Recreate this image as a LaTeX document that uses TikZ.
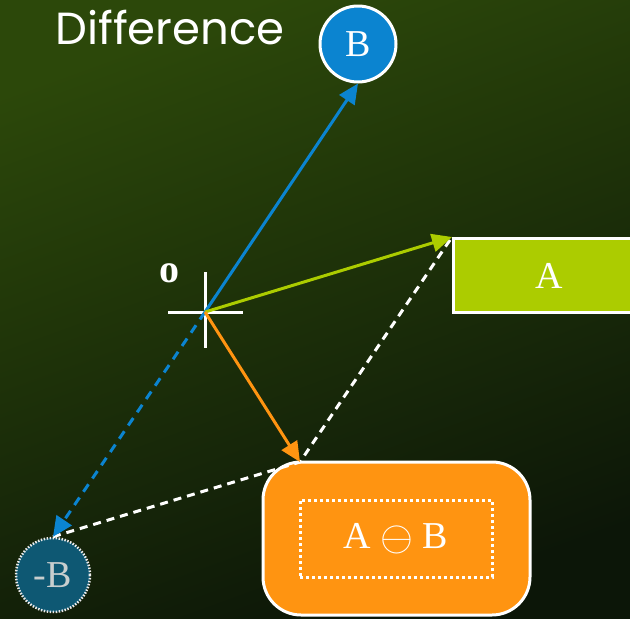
\documentclass[tikz,border=0pt]{standalone}
\usepackage{fontspec}
\setmainfont{Liberation Serif}
\newfontfamily\titlefont{Poppins}
\usetikzlibrary{arrows.meta,positioning}
\definecolor{cB}{RGB}{11,132,208}
\definecolor{cA}{RGB}{172,204,0}
\definecolor{cDiff}{RGB}{255,148,17}
\definecolor{cNegB}{RGB}{14,88,115}
\definecolor{bgTop}{RGB}{44,72,10}
\definecolor{bgBot}{RGB}{12,22,8}
\definecolor{softgray}{RGB}{200,206,206}

\begin{document}
\begin{tikzpicture}[x=1pt, y=-1pt, font=\fontsize{38}{42}\selectfont,
    vec/.style={line width=3pt, -{Triangle[length=20pt,width=18pt]}},
    guide/.style={white, line width=3pt, dash pattern=on 8pt off 6pt},
    vecnode/.style={draw=white, line width=3pt, text=white, inner sep=0pt}]
  \useasboundingbox (0,0) rectangle (630,619);
  \clip (0,0) rectangle (630,619);
  \shade[top color=bgTop, bottom color=bgBot, shading angle=20] (0,0) rectangle (630,619);

  \node[font=\titlefont\fontsize{45}{50}\selectfont, white] (title) at (170,28) {Difference};

  % vectors
  \node[vecnode, circle, fill=cB, minimum size=76pt] (B) at (358,44) {B};
  \node[vecnode, rectangle, fill=cA, minimum width=192pt, minimum height=74pt,
        anchor=north west] (A) at (452,237) {A};
  \node[vecnode, rectangle, rounded corners=38pt, fill=cDiff, minimum width=267pt,
        minimum height=153pt] (diff) at (396.5,538.5) {};
  \node[draw=white, line width=3pt, dash pattern=on 3pt off 3pt, text=white,
        minimum width=192pt, minimum height=77pt] (res) at (396,538.5)
        {A \raisebox{-2pt}{\scalebox{1.7}{$\ominus$}} B};
  \node[circle, fill=cNegB, draw=white!85!gray, line width=2.5pt, dash pattern=on 1.5pt off 1.5pt,
        text=softgray, minimum size=74pt, inner sep=0pt] (negB) at (53,575) {-B};

  % origin
  \coordinate (o) at (205,312);
  \coordinate (d) at (300,462);
  \draw[white, line width=3pt] (168,312) -- (243,312) (205,272) -- (205,348);
  \node[font=\fontsize{40}{44}\selectfont\bfseries, white] (olabel) at (169,273) {o};

  \draw[guide] (negB.north) -- (d) -- (A.north west);
  \draw[vec, cB] (o) -- (B.south);
  \draw[vec, cB, dash pattern=on 9pt off 7pt] (o) -- (negB.north);
  \draw[vec, cA] (o) -- (A.north west);
  \draw[vec, cDiff] (o) -- (d);
\end{tikzpicture}
\end{document}
